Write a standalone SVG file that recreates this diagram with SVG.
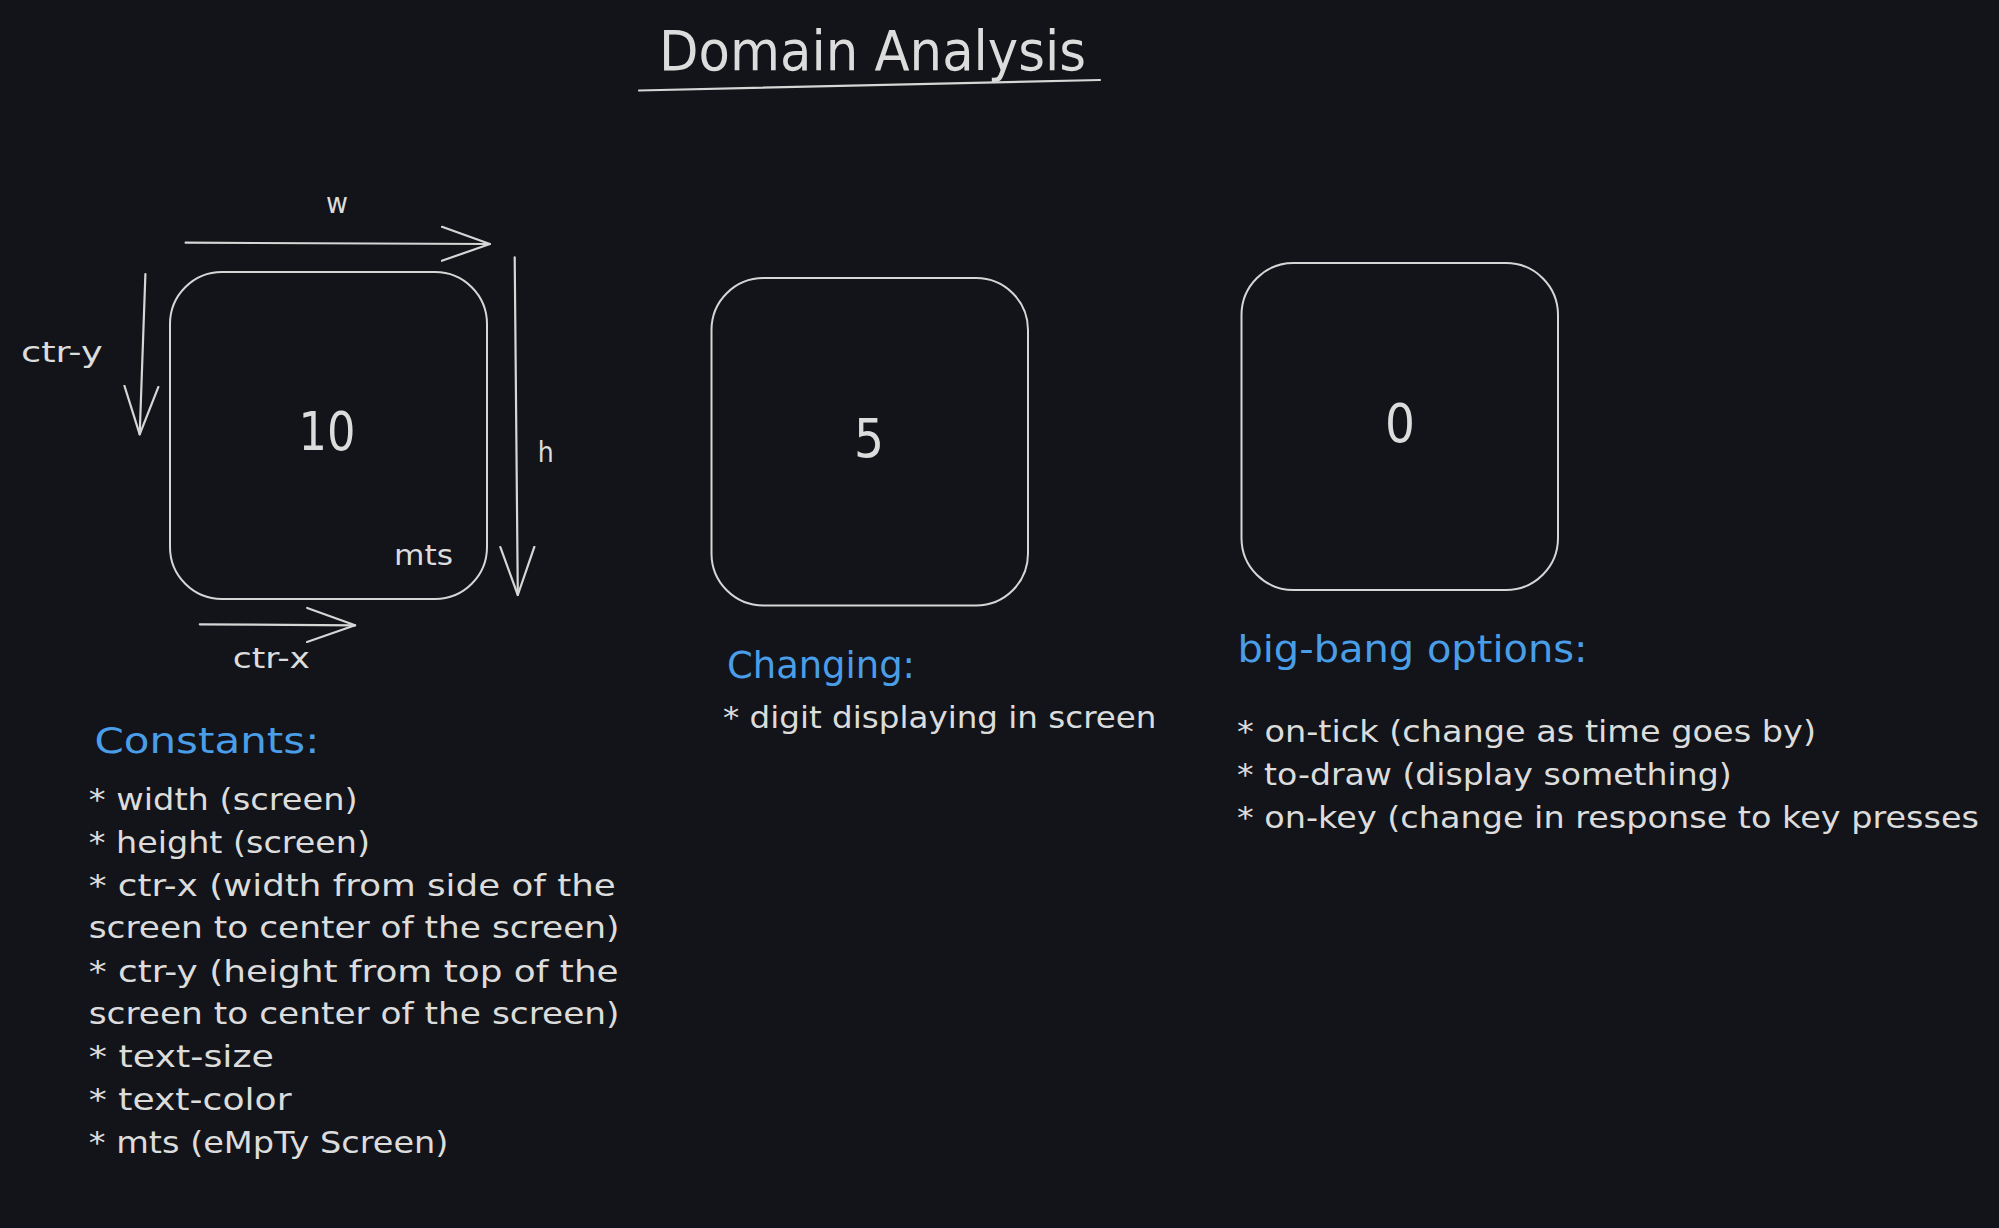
<svg xmlns="http://www.w3.org/2000/svg" width="1999" height="1228" viewBox="0 0 1999 1228">
<defs>
<style>
.bg{fill:#121419}
.box{fill:none;stroke:#d6d6d6;stroke-width:2}
.ln{fill:none;stroke:#d6d6d6;stroke-width:2.2;stroke-linecap:round;stroke-linejoin:round}
.t{font-family:"DejaVu Sans","Liberation Sans",sans-serif;fill:#dcdcdc}
.h{font-family:"DejaVu Sans","Liberation Sans",sans-serif;fill:#4a9ee8}
</style>
<marker id="ah" markerUnits="userSpaceOnUse" markerWidth="60" markerHeight="44" refX="49" refY="20" orient="auto" viewBox="0 0 60 44">
<path d="M1,3 L49,20 L1,37" fill="none" stroke="#d6d6d6" stroke-width="2.2" stroke-linecap="round" stroke-linejoin="round"/>
</marker>
</defs>
<rect class="bg" x="0" y="0" width="1999" height="1228"/>

<g id="title">
<text class="t" x="659" y="70" font-size="56" textLength="427" lengthAdjust="spacingAndGlyphs">Domain Analysis</text>
<path class="ln" d="M639,90.5 L1100,80"/>
</g>

<g id="screen-10">
<rect class="box" x="170" y="272" width="317" height="327" rx="52" ry="52"/>
<text class="t" x="298.5" y="450" font-size="54" textLength="57" lengthAdjust="spacingAndGlyphs">10</text>
<text class="t" x="394" y="565" font-size="28" textLength="59" lengthAdjust="spacingAndGlyphs">mts</text>
</g>

<g id="screen-5">
<rect class="box" x="711.5" y="278" width="316.5" height="327.5" rx="52" ry="52"/>
<text class="t" x="854" y="457" font-size="54" textLength="30" lengthAdjust="spacingAndGlyphs">5</text>
</g>

<g id="screen-0">
<rect class="box" x="1241.5" y="263" width="316.5" height="327" rx="52" ry="52"/>
<text class="t" x="1385" y="441.5" font-size="54" textLength="30" lengthAdjust="spacingAndGlyphs">0</text>
</g>

<g id="connectors">
<path class="ln" d="M185.6,242.7 L489.9,244" marker-end="url(#ah)"/>
<path class="ln" d="M514.7,257.3 L517.8,595" marker-end="url(#ah)"/>
<path class="ln" d="M145.4,274 L139.7,434.3" marker-end="url(#ah)"/>
<path class="ln" d="M199.8,624.3 L355.1,625.3" marker-end="url(#ah)"/>
</g>

<g id="dimension-labels">
<text class="t" x="326" y="213" font-size="28" textLength="22" lengthAdjust="spacingAndGlyphs">w</text>
<text class="t" x="537.7" y="462" font-size="28" textLength="16" lengthAdjust="spacingAndGlyphs">h</text>
<text class="t" x="21" y="362" font-size="28" textLength="81.6" lengthAdjust="spacingAndGlyphs">ctr-y</text>
<text class="t" x="232.7" y="668" font-size="28" textLength="77.3" lengthAdjust="spacingAndGlyphs">ctr-x</text>
</g>

<g id="constants">
<text class="h" x="94.4" y="753.3" font-size="36" textLength="225" lengthAdjust="spacingAndGlyphs">Constants:</text>
<text class="t" x="88.7" y="810" font-size="31" textLength="269" lengthAdjust="spacingAndGlyphs">* width (screen)</text>
<text class="t" x="88.7" y="853" font-size="31" textLength="281.3" lengthAdjust="spacingAndGlyphs">* height (screen)</text>
<text class="t" x="88.7" y="895.5" font-size="31" textLength="527" lengthAdjust="spacingAndGlyphs">* ctr-x (width from side of the</text>
<text class="t" x="88.7" y="938.3" font-size="31" textLength="530.8" lengthAdjust="spacingAndGlyphs">screen to center of the screen)</text>
<text class="t" x="88.7" y="981.5" font-size="31" textLength="530" lengthAdjust="spacingAndGlyphs">* ctr-y (height from top of the</text>
<text class="t" x="88.7" y="1023.5" font-size="31" textLength="530.8" lengthAdjust="spacingAndGlyphs">screen to center of the screen)</text>
<text class="t" x="88.7" y="1066.7" font-size="31" textLength="185.3" lengthAdjust="spacingAndGlyphs">* text-size</text>
<text class="t" x="88.7" y="1110" font-size="31" textLength="202.8" lengthAdjust="spacingAndGlyphs">* text-color</text>
<text class="t" x="88.7" y="1153.3" font-size="31" textLength="359.7" lengthAdjust="spacingAndGlyphs">* mts (eMpTy Screen)</text>
</g>

<g id="changing">
<text class="h" x="727" y="678" font-size="38" textLength="188" lengthAdjust="spacingAndGlyphs">Changing:</text>
<text class="t" x="723" y="728.3" font-size="31" textLength="433.5" lengthAdjust="spacingAndGlyphs">* digit displaying in screen</text>
</g>

<g id="big-bang">
<text class="h" x="1237.4" y="661.7" font-size="38" textLength="350.2" lengthAdjust="spacingAndGlyphs">big-bang options:</text>
<text class="t" x="1237" y="742" font-size="31" textLength="579" lengthAdjust="spacingAndGlyphs">* on-tick (change as time goes by)</text>
<text class="t" x="1237" y="785" font-size="31" textLength="494.7" lengthAdjust="spacingAndGlyphs">* to-draw (display something)</text>
<text class="t" x="1237" y="828.3" font-size="31" textLength="742" lengthAdjust="spacingAndGlyphs">* on-key (change in response to key presses</text>
</g>
</svg>
